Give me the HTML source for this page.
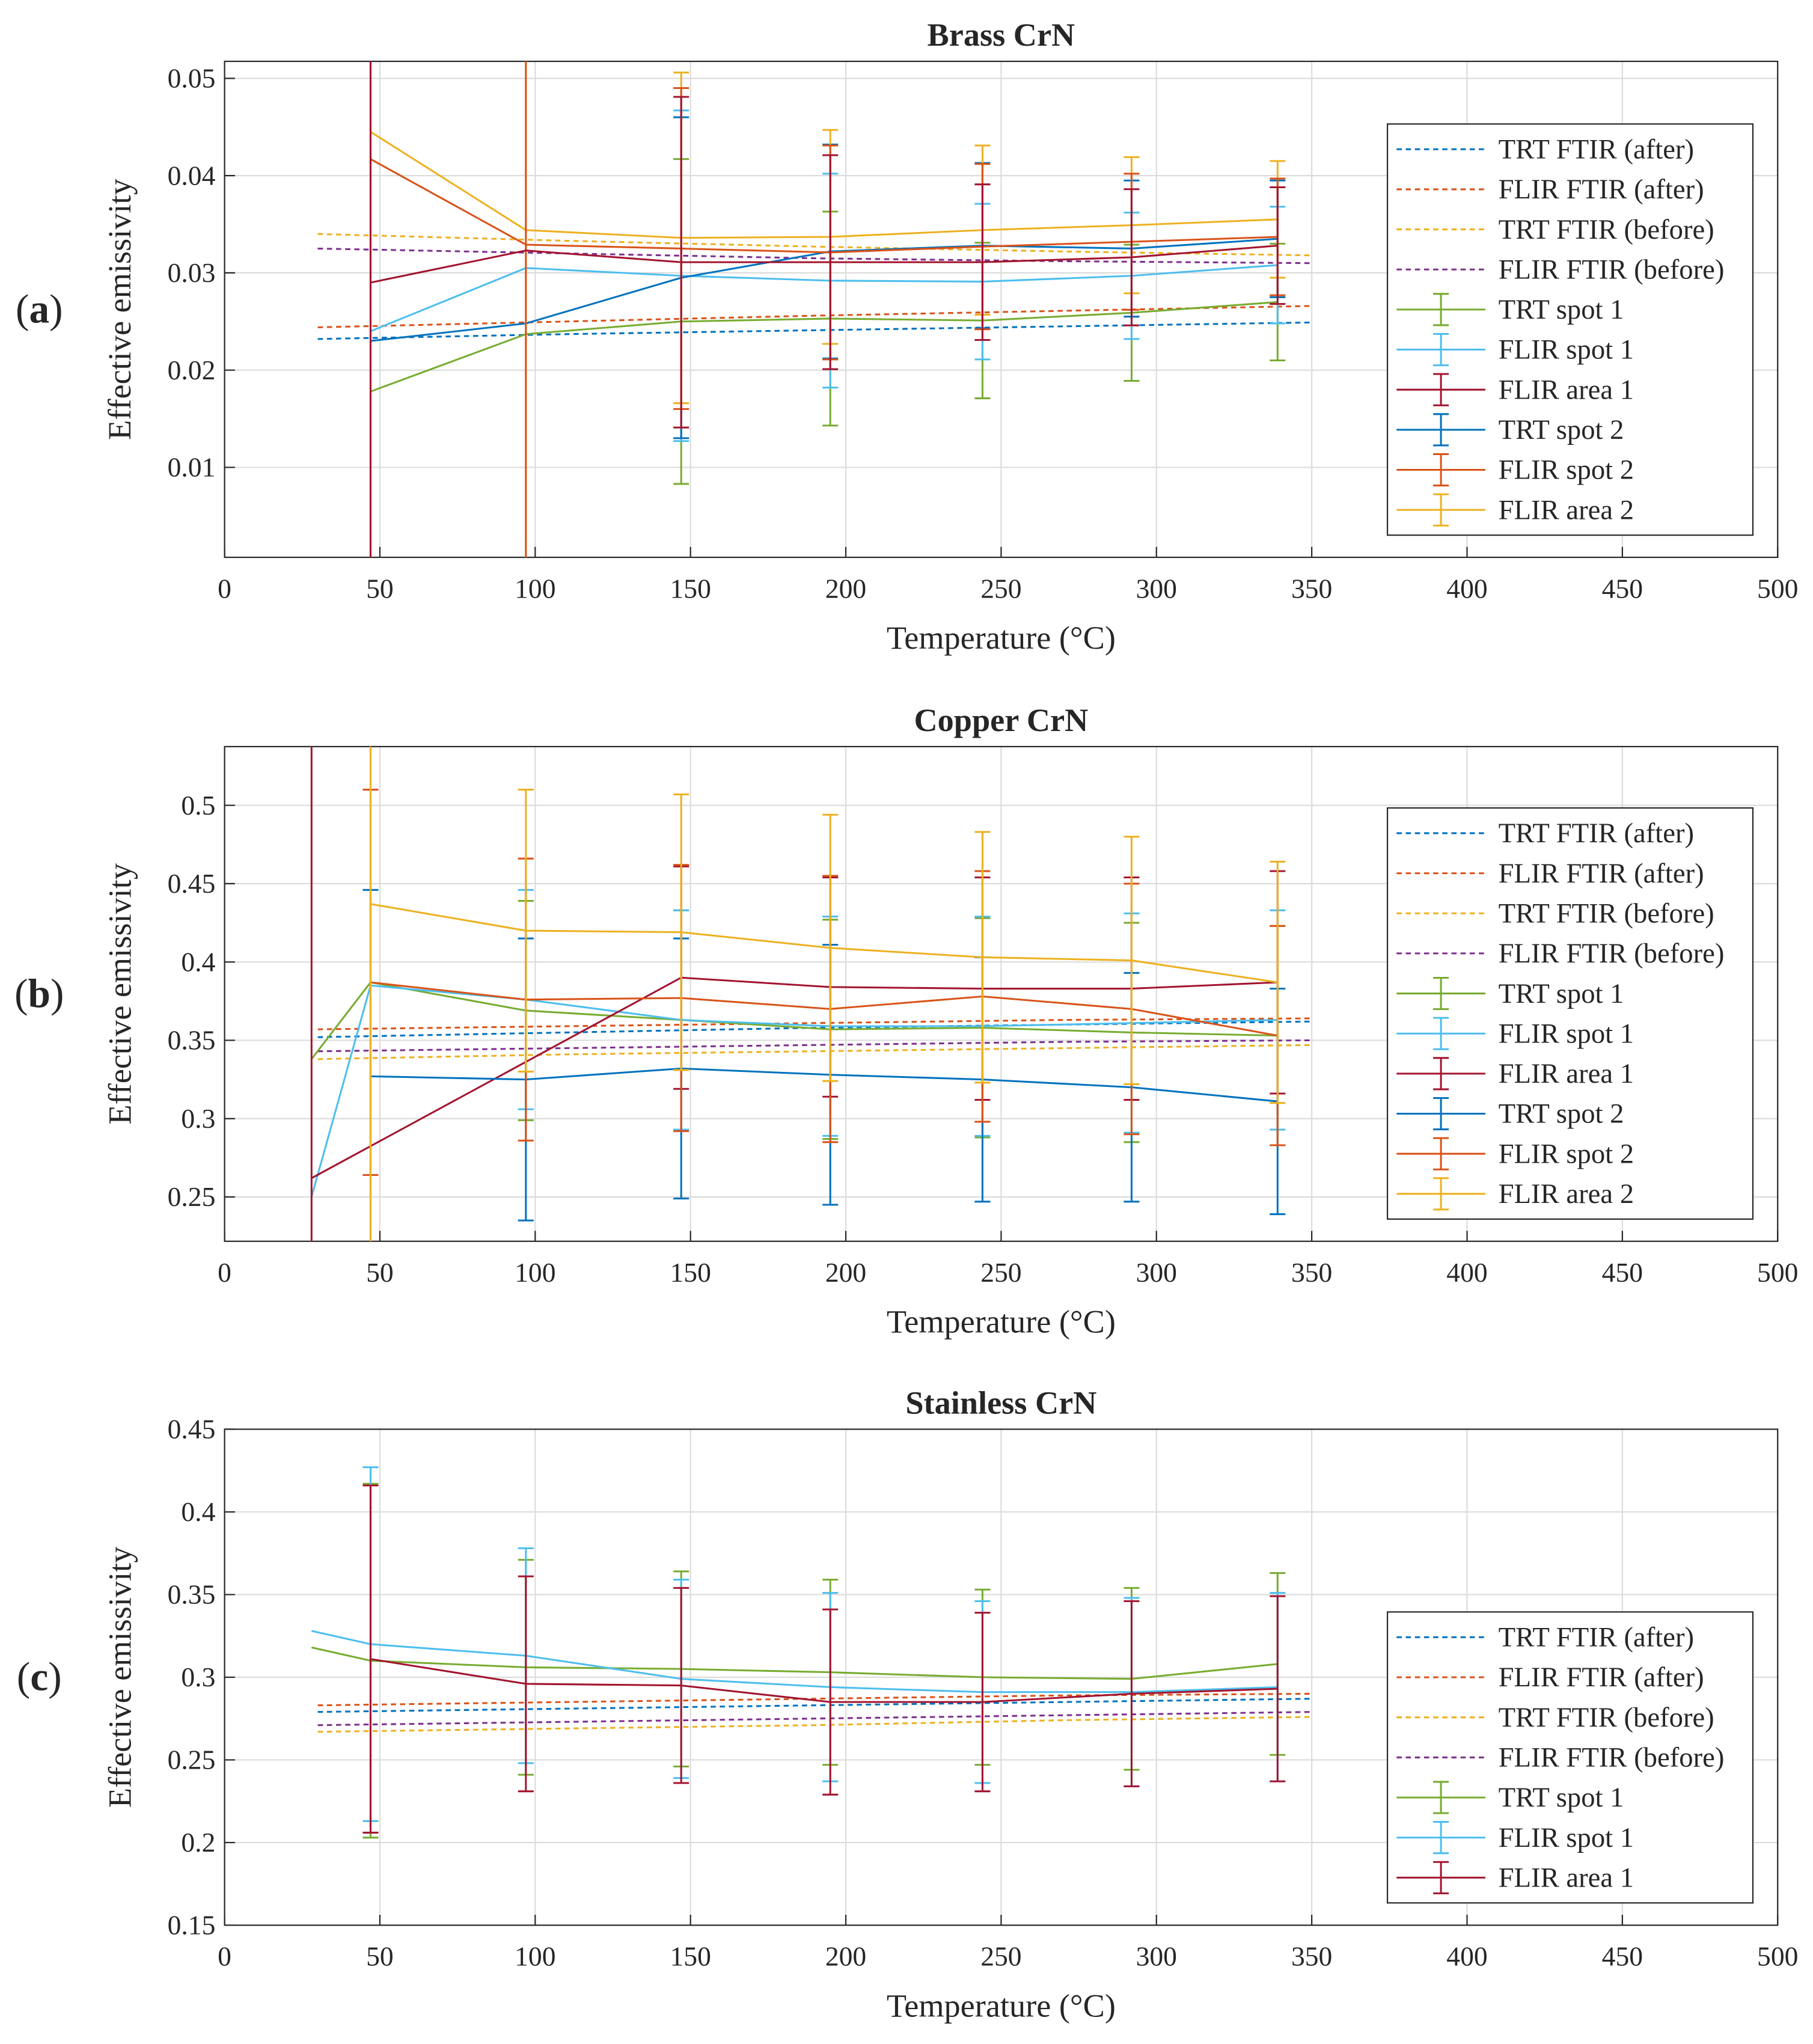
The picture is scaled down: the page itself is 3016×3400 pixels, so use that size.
<!DOCTYPE html>
<html><head><meta charset="utf-8"><style>
html,body{margin:0;padding:0;background:#fff}
svg{display:block}
text{font-family:"Liberation Serif",serif;fill:#262626}
</style></head><body>
<svg id="fig" width="3016" height="3400" viewBox="0 0 1389 1566" xmlns="http://www.w3.org/2000/svg"></svg>
<script>
// ---------- DATA ----------
const xTicks=[0,50,100,150,200,250,300,350,400,450,500];
const legendNames=["TRT FTIR  (after)","FLIR FTIR  (after)","TRT FTIR  (before)","FLIR FTIR  (before)","TRT spot 1","FLIR spot 1","FLIR area 1","TRT spot 2","FLIR spot 2","FLIR area 2"];
const seriesColors=["#0072BD","#D95319","#EDB120","#7E2F8E","#77AC30","#4DBEEE","#A2142F","#0072BD","#D95319","#EDB120"];
const dashX=[30,110,190,270,350];
const xMain=[47,97,147,195,244,292,339];
const x8=[28,47,97,147,195,244,292,339];

// Panel (a) Brass
const aTicks=[0.01,0.02,0.03,0.04,0.05];
const aDash=[[0.0232,0.0237,0.0241,0.0245,0.0249],[0.0244,0.0250,0.0256,0.0261,0.0266],[0.0340,0.0333,0.0327,0.0322,0.0318],[0.0325,0.0320,0.0315,0.0312,0.0310]];
const aTrt1=[0.0178,0.0237,0.0250,0.0253,0.0251,0.0259,0.0270];
const aTrt1Err=[0,0,0.0167,0.011,0.008,0.007,0.006];
const aFlir1=[0.024,0.0305,0.0297,0.0292,0.0291,0.0297,0.0308];
const aFlir1Err=[0,0,0.017,0.011,0.008,0.0065,0.006];
const aArea1=[0.029,0.0323,0.0311,0.0311,0.0311,0.0316,0.0328];
const aArea1Err=[0.1,0,0.017,0.011,0.008,0.007,0.006];
const aTrt2=[0.023,0.0248,0.0295,0.0322,0.0328,0.0325,0.0335];
const aTrt2Err=[0,0,0.0165,0.011,0.0085,0.007,0.006];
const aFlir2=[0.0417,0.0329,0.0325,0.0321,0.0327,0.0332,0.0337];
const aFlir2Err=[0.1,0.1,0.0165,0.011,0.0085,0.007,0.006];
const aArea2=[0.0445,0.0344,0.0336,0.0337,0.0344,0.0349,0.0355];
const aArea2Err=[0,0.1,0.017,0.011,0.0087,0.007,0.006];

// Panel (b) Copper
const bTicks=[0.25,0.3,0.35,0.4,0.45,0.5];
const bDash=[[0.352,0.355,0.358,0.360,0.362],[0.357,0.359,0.361,0.363,0.364],[0.338,0.341,0.343,0.345,0.347],[0.343,0.345,0.347,0.349,0.350]];
const bTrt1=[0.338,0.387,0.369,0.363,0.357,0.358,0.355,0.353];
const bTrt1Err=[0,0,0.07,0.07,0.07,0.07,0.07,0.07];
const bFlir1=[0.25,0.385,0.376,0.363,0.359,0.359,0.361,0.363];
const bFlir1Err=[0,0,0.07,0.07,0.07,0.07,0.07,0.07];
const bArea1X=[28,147,195,244,292,339];
const bArea1=[0.262,0.39,0.384,0.383,0.383,0.387];
const bArea1Err=[0.5,0.071,0.07,0.071,0.071,0.071];
const bTrt2=[0.327,0.325,0.332,0.328,0.325,0.320,0.311];
const bTrt2Err=[0.119,0.09,0.083,0.083,0.078,0.073,0.072];
const bFlir2=[0.387,0.376,0.377,0.370,0.378,0.370,0.353];
const bFlir2Err=[0.123,0.09,0.085,0.085,0.08,0.08,0.07];
const bArea2=[0.437,0.420,0.419,0.409,0.403,0.401,0.387];
const bArea2Err=[0.3,0.09,0.088,0.085,0.08,0.079,0.077];

// Panel (c) Stainless
const cTicks=[0.15,0.2,0.25,0.3,0.35,0.4,0.45];
const cDash=[[0.279,0.281,0.283,0.285,0.287],[0.283,0.285,0.287,0.289,0.290],[0.267,0.269,0.271,0.274,0.276],[0.271,0.273,0.275,0.277,0.279]];
const cTrt1=[0.318,0.310,0.306,0.305,0.303,0.300,0.299,0.308];
const cTrt1Err=[0,0.107,0.065,0.059,0.056,0.053,0.055,0.055];
const cFlir1=[0.328,0.320,0.313,0.299,0.294,0.291,0.291,0.294];
const cFlir1Err=[0,0.107,0.065,0.06,0.057,0.055,0.057,0.057];
const cArea1=[0.311,0.296,0.295,0.285,0.285,0.290,0.293];
const cArea1Err=[0.105,0.065,0.059,0.056,0.054,0.056,0.056];

// ---------- DRAW ----------
const NS="http://www.w3.org/2000/svg";
const svg=document.getElementById('fig');
function mk(tag,attrs,parent){const e=document.createElementNS(NS,tag);for(const k in attrs)e.setAttribute(k,attrs[k]);(parent||svg).appendChild(e);return e;}
const X0=172,X1=1362;
function sx(v){return X0+(v-0)/(500-0)*(X1-X0);}

function panel(p){
  const g=mk('g',{});
  
  
  const sy=v=>p.yTopPx+(p.yMax-v)/(p.yMax-p.yMin)*(p.yBotPx-p.yTopPx);
  const cid='clip-'+p.name;
  const cp=mk('clipPath',{id:cid},g);
  mk('rect',{x:X0,y:p.yTopPx,width:X1-X0,height:p.yBotPx-p.yTopPx},cp);
  const grid=mk('g',{stroke:'#dcdcdc','stroke-width':1},g);
  
  
  xTicks.forEach(t=>mk('line',{x1:sx(t),x2:sx(t),y1:p.yTopPx,y2:p.yBotPx},grid));
  p.ticks.forEach(t=>mk('line',{x1:X0,x2:X1,y1:sy(t),y2:sy(t)},grid));
  mk('rect',{x:X0,y:p.yTopPx,width:X1-X0,height:p.yBotPx-p.yTopPx,fill:'none',stroke:'#262626','stroke-width':1},g);
  const xt=mk('g',{},g);
  
  
  xTicks.forEach(t=>{
    mk('line',{x1:sx(t),x2:sx(t),y1:p.yBotPx,y2:p.yBotPx-8,stroke:'#262626'},xt);
    const tx=mk('text',{x:sx(t),y:p.yBotPx+31,'font-size':21,'text-anchor':'middle'},xt);tx.textContent=t;
  });
  const yt=mk('g',{},g);
  
  
  p.ticks.forEach(t=>{
    mk('line',{x1:X0,x2:X0+8,y1:sy(t),y2:sy(t),stroke:'#262626'},yt);
    const tx=mk('text',{x:X0-7,y:sy(t)+7,'font-size':21,'text-anchor':'end'},yt);tx.textContent=String(t);
  });
  const xl=mk('text',{x:767,y:p.yBotPx+70,'font-size':25,'text-anchor':'middle'},g);xl.textContent='Temperature (°C)';
  
  const ym=(p.yTopPx+p.yBotPx)/2;
  const yl=mk('text',{x:100,y:ym,'font-size':25,'text-anchor':'middle',transform:`rotate(-90 100 ${ym})`},g);yl.textContent='Effective emissivity';
  
  const ti=mk('text',{x:767,y:p.yTopPx-12,'font-size':25,'font-weight':'bold','text-anchor':'middle',fill:'#000'},g);ti.textContent=p.title;
  
  const pl=mk('text',{x:30,y:ym+10,'font-size':31,'text-anchor':'middle',fill:'#000'},g);
  
  const t1=mk('tspan',{},pl);t1.textContent='(';
  const t2=mk('tspan',{'font-weight':'bold'},pl);t2.textContent=p.label;
  const t3=mk('tspan',{},pl);t3.textContent=')';
  const sg=mk('g',{'clip-path':`url(#${cid})`,fill:'none'},g);
  p.dash.forEach((arr,i)=>{
    const pts=dashX.map((x,j)=>sx(x)+','+sy(arr[j])).join(' ');
    const pl2=mk('polyline',{points:pts,stroke:seriesColors[i],'stroke-width':1.4,'stroke-dasharray':'4 3'},sg);
    
    
  });
  p.series.forEach(s=>{
    const c=seriesColors[s.idx];
    const pts=s.x.map((x,j)=>sx(x)+','+sy(s.y[j])).join(' ');
    const ln=mk('polyline',{points:pts,stroke:c,'stroke-width':1.4},sg);
    
    
    s.x.forEach((x,j)=>{
      const e=s.e[j];if(!e)return;
      const px=sx(x),t=sy(s.y[j]+e),b=sy(s.y[j]-e);
      const eb=mk('path',{d:`M${px},${t}V${b}M${px-6},${t}H${px+6}M${px-6},${b}H${px+6}`,stroke:c,'stroke-width':1.4},sg);
      
      
    });
  });
  const n=p.nLeg, lh=30.7;
  const lg=mk('g',{},g);
  
  
  mk('rect',{x:1063,y:p.legY,width:280,height:n*lh+8,fill:'#fff',stroke:'#262626','stroke-width':1},lg);
  for(let i=0;i<n;i++){
    const yy=p.legY+4+lh*(i+0.5);
    const c=seriesColors[i];
    const en=mk('g',{},lg);
    
    
    if(i<4) mk('line',{x1:1070,x2:1138,y1:yy,y2:yy,stroke:c,'stroke-width':1.4,'stroke-dasharray':'4 3'},en);
    else{
      mk('line',{x1:1070,x2:1138,y1:yy,y2:yy,stroke:c,'stroke-width':1.4},en);
      mk('path',{d:`M1104,${yy-12}V${yy+12}M1098,${yy-12}H1110M1098,${yy+12}H1110`,stroke:c,'stroke-width':1.4,fill:'none'},en);
    }
    const tx=mk('text',{x:1148,y:yy+7,'font-size':21.5},en);tx.textContent=legendNames[i];
  }
}

panel({name:'brass',title:'Brass CrN',label:'a',yTopPx:47,yBotPx:427,yMax:0.05175,yMin:0.00075,ticks:aTicks,dash:aDash,nLeg:10,legY:95,
 series:[{idx:4,x:xMain,y:aTrt1,e:aTrt1Err},{idx:5,x:xMain,y:aFlir1,e:aFlir1Err},{idx:7,x:xMain,y:aTrt2,e:aTrt2Err},{idx:9,x:xMain,y:aArea2,e:aArea2Err},{idx:8,x:xMain,y:aFlir2,e:aFlir2Err},{idx:6,x:xMain,y:aArea1,e:aArea1Err}]});
panel({name:'copper',title:'Copper CrN',label:'b',yTopPx:572,yBotPx:951,yMax:0.5375,yMin:0.2217,ticks:bTicks,dash:bDash,nLeg:10,legY:619,
 series:[{idx:4,x:x8,y:bTrt1,e:bTrt1Err},{idx:5,x:x8,y:bFlir1,e:bFlir1Err},{idx:6,x:bArea1X,y:bArea1,e:bArea1Err},{idx:7,x:xMain,y:bTrt2,e:bTrt2Err},{idx:8,x:xMain,y:bFlir2,e:bFlir2Err},{idx:9,x:xMain,y:bArea2,e:bArea2Err}]});
panel({name:'stainless',title:'Stainless CrN',label:'c',yTopPx:1095,yBotPx:1475,yMax:0.45,yMin:0.15,ticks:cTicks,dash:cDash,nLeg:7,legY:1235,
 series:[{idx:4,x:x8,y:cTrt1,e:cTrt1Err},{idx:5,x:x8,y:cFlir1,e:cFlir1Err},{idx:6,x:xMain,y:cArea1,e:cArea1Err}]});
</script>
</body></html>
